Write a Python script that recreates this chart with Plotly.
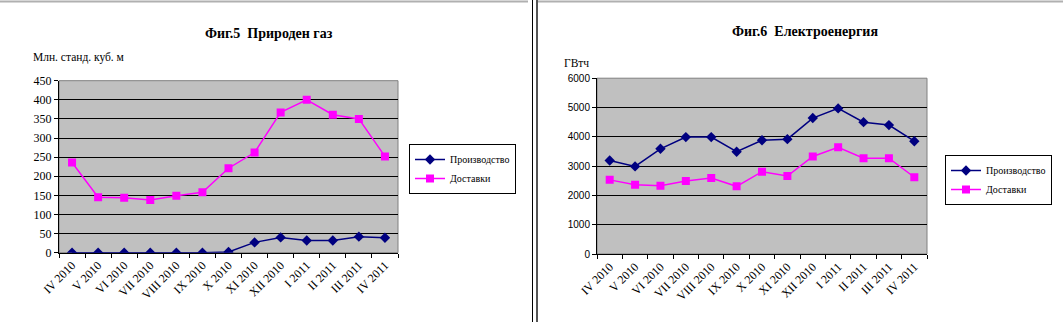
import plotly.graph_objects as go

W, H = 1063, 322

months = ["IV 2010", "V 2010", "VI 2010", "VII 2010", "VIII 2010", "IX 2010",
          "X 2010", "XI 2010", "XII 2010", "I 2011", "II 2011", "III 2011", "IV 2011"]

# Fig. 5 - natural gas, million standard cubic metres
gas_production = [0, 0, 0, 0, 0, 0, 2, 27, 40, 32, 32, 42, 39]
gas_deliveries = [236, 145, 144, 138, 149, 158, 221, 262, 367, 400, 361, 350, 252]

# Fig. 6 - electricity, GWh
el_production = [3190, 2990, 3590, 3990, 3990, 3490, 3880, 3920, 4640, 4970, 4500, 4400, 3850]
el_deliveries = [2530, 2360, 2330, 2490, 2590, 2310, 2810, 2660, 3330, 3640, 3270, 3270, 2620]

NAVY = "#000080"
MAGENTA = "#FF00FF"
SERIF = "Times New Roman, Liberation Serif, serif"
SANS = "Arial, Liberation Sans, sans-serif"


def px_x(p):
    return p / W


def px_y(p):
    return 1 - p / H


fig = go.Figure()

# (xaxis id, yaxis id, legend id, production, deliveries)
panels = [
    ("x", "y", "legend", gas_production, gas_deliveries),
    ("x2", "y2", "legend2", el_production, el_deliveries),
]
for xa, ya, lg, prod, deliv in panels:
    fig.add_trace(go.Scatter(
        x=months, y=prod, name="Производство", mode="lines+markers",
        xaxis=xa, yaxis=ya, legend=lg,
        line=dict(color=NAVY, width=1.5),
        marker=dict(symbol="diamond", size=8, color=NAVY),
    ))
    fig.add_trace(go.Scatter(
        x=months, y=deliv, name="Доставки", mode="lines+markers",
        xaxis=xa, yaxis=ya, legend=lg,
        line=dict(color=MAGENTA, width=1.5),
        marker=dict(symbol="square", size=8, color=MAGENTA),
    ))

xcommon = dict(
    type="category", range=[-0.5, 12.5], tickangle=-45, automargin=False,
    tickson="boundaries", ticks="outside", ticklen=4, tickcolor="black",
    showline=True, linecolor="black", linewidth=1, showgrid=False,
    tickfont=dict(family=SERIF, size=12, color="black"), fixedrange=True,
)
ycommon = dict(
    ticks="outside", ticklen=4, tickcolor="black", automargin=False,
    showline=True, linecolor="black", linewidth=1,
    showgrid=True, gridcolor="black", gridwidth=1, zeroline=False,
    fixedrange=True,
)

legend_style = dict(xanchor="left", yanchor="top",
                    bgcolor="white", bordercolor="black", borderwidth=1,
                    font=dict(family=SERIF, size=10, color="black"),
                    tracegroupgap=0, itemwidth=30)

fig.update_layout(
    width=W, height=H,
    margin=dict(l=0, r=0, t=0, b=0, autoexpand=False),
    paper_bgcolor="white", plot_bgcolor="#C0C0C0",
    xaxis=dict(xcommon, domain=[px_x(59), px_x(398)], anchor="y"),
    yaxis=dict(ycommon, domain=[px_y(252.7), px_y(80.7)], anchor="x",
               range=[0, 450], dtick=50,
               tickfont=dict(family=SERIF, size=12, color="black")),
    xaxis2=dict(xcommon, domain=[px_x(597), px_x(927)], anchor="y2"),
    yaxis2=dict(ycommon, domain=[px_y(254), px_y(78.2)], anchor="x2",
                range=[0, 6000], dtick=1000,
                tickfont=dict(family=SANS, size=10, color="black")),
    legend=dict(legend_style, x=px_x(409), y=px_y(144)),
    legend2=dict(legend_style, x=px_x(945), y=px_y(155)),
    showlegend=True,
)

# grey frame on the top and right of each plot area
for xa, ya in (("x", "y"), ("x2", "y2")):
    fig.add_shape(type="rect", xref=f"{xa} domain", yref=f"{ya} domain",
                  x0=0, x1=1, y0=0, y1=1,
                  line=dict(color="#808080", width=1), layer="below")

# page decoration: top rule and the divider between the two figures
fig.add_shape(type="line", xref="paper", yref="paper",
              x0=0, x1=px_x(528), y0=px_y(1.5), y1=px_y(1.5),
              line=dict(color="#B0B0B0", width=2))
fig.add_shape(type="line", xref="paper", yref="paper",
              x0=px_x(536), x1=1, y0=px_y(1.5), y1=px_y(1.5),
              line=dict(color="#B0B0B0", width=2))
fig.add_shape(type="line", xref="paper", yref="paper",
              x0=px_x(532.5), x1=px_x(532.5), y0=0, y1=1,
              line=dict(color="black", width=1))
fig.add_shape(type="line", xref="paper", yref="paper",
              x0=px_x(537), x1=px_x(537), y0=0, y1=1,
              line=dict(color="#555555", width=2))

# chart titles
titles = [
    ("<b>Фиг.5  Природен газ</b>", 269, 33),
    ("<b>Фиг.6  Електроенергия</b>", 805, 31),
]
for txt, cx, cy in titles:
    fig.add_annotation(text=txt, xref="paper", yref="paper",
                       x=px_x(cx), y=px_y(cy), xanchor="center", yanchor="middle",
                       showarrow=False,
                       font=dict(family=SERIF, size=14, color="black"))

# unit labels above the value axes
fig.add_annotation(text="Млн. станд. куб. м", xref="paper", yref="paper",
                   x=px_x(31), y=px_y(57), xanchor="left", yanchor="middle",
                   showarrow=False, font=dict(family=SERIF, size=11.5, color="black"))
fig.add_annotation(text="ГВтч", xref="paper", yref="paper",
                   x=px_x(562), y=px_y(63), xanchor="left", yanchor="middle",
                   showarrow=False, font=dict(family=SERIF, size=11.5, color="black"))

fig.write_html("out.html")
